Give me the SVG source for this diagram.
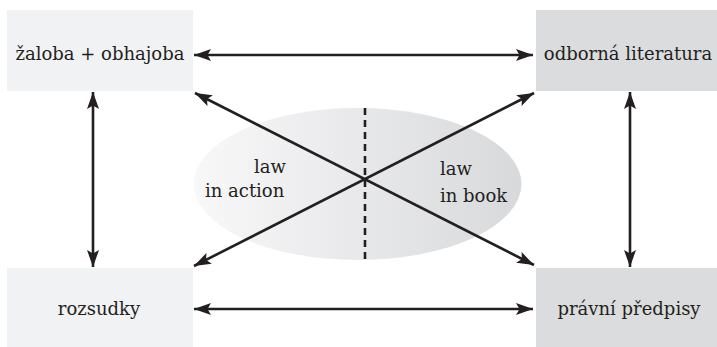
<svg xmlns="http://www.w3.org/2000/svg" width="717" height="347" viewBox="0 0 717 347">
<style>
.lbl{font-family:"DejaVu Serif","Liberation Serif",serif;font-size:18px;fill:#231f20}
.mid{text-anchor:middle}
.boxL{fill:#f1f2f4}
.boxR{fill:#dbdcde}
.conn{stroke:#231f20;stroke-width:2.6;fill:none}
</style>
<defs>
<marker id="ah" markerUnits="userSpaceOnUse" markerWidth="20" markerHeight="14" refX="17" refY="6" orient="auto-start-reverse">
<path d="M0,0 L17,6 L0,12 L3.5,6 z" fill="#231f20"/>
</marker>
<linearGradient id="eg" x1="0" y1="0" x2="1" y2="0">
<stop offset="0" stop-color="#f8f8f9"/>
<stop offset="1" stop-color="#d8d9db"/>
</linearGradient>
</defs>
<ellipse cx="357.5" cy="184" rx="164" ry="76" fill="url(#eg)"/>
<g id="n1"><rect class="boxL" x="7" y="10" width="186" height="81"/><text class="lbl mid" x="100" y="60">žaloba + obhajoba</text></g>
<g id="n2"><rect class="boxR" x="536" y="10" width="181" height="81"/><text class="lbl mid" x="628" y="60">odborná literatura</text></g>
<g id="n3"><rect class="boxL" x="7" y="268" width="186" height="79"/><text class="lbl mid" x="99" y="315">rozsudky</text></g>
<g id="n4"><rect class="boxR" x="536" y="268" width="181" height="79"/><text class="lbl mid" x="629" y="315">právní předpisy</text></g>
<g id="labels">
<text class="lbl" x="286" y="173" text-anchor="end">law</text>
<text class="lbl" x="205" y="197">in action</text>
<text class="lbl" x="440" y="175">law</text>
<text class="lbl" x="440" y="202">in book</text>
</g>
<g id="connectors">
<line class="conn" x1="365" y1="108" x2="365" y2="260" stroke-dasharray="7 5"/>
<line class="conn" x1="194" y1="55" x2="533" y2="55" marker-start="url(#ah)" marker-end="url(#ah)"/>
<line class="conn" x1="194" y1="309" x2="533" y2="309" marker-start="url(#ah)" marker-end="url(#ah)"/>
<line class="conn" x1="93" y1="92" x2="93" y2="267" marker-start="url(#ah)" marker-end="url(#ah)"/>
<line class="conn" x1="630" y1="92" x2="630" y2="267" marker-start="url(#ah)" marker-end="url(#ah)"/>
<line class="conn" x1="195" y1="93" x2="534" y2="265" marker-start="url(#ah)" marker-end="url(#ah)"/>
<line class="conn" x1="534" y1="93" x2="194" y2="266" marker-start="url(#ah)" marker-end="url(#ah)"/>
</g>
</svg>
